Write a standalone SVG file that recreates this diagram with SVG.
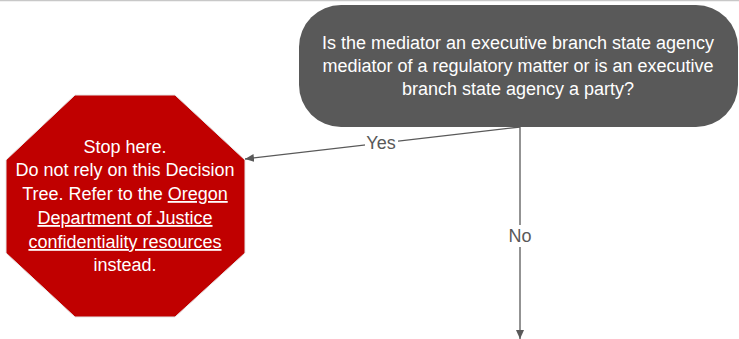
<svg xmlns="http://www.w3.org/2000/svg" width="739" height="339" viewBox="0 0 739 339">
  <style>
    .t { font-family: "Liberation Sans", Arial, sans-serif; font-size: 18px; fill: #ffffff; text-anchor: middle; }
    .lbl { font-family: "Liberation Sans", Arial, sans-serif; font-size: 18px; fill: #595959; text-anchor: middle; }
    .edge { stroke: #595959; stroke-width: 1.3; fill: none; }
    .u { text-decoration: underline; }
  </style>
  <defs>
    <marker id="arrow" markerWidth="10" markerHeight="10" refX="9" refY="5" orient="auto" markerUnits="userSpaceOnUse">
      <path d="M0,1 L9,5 L0,9 Z" fill="#595959"/>
    </marker>
  </defs>

  <rect x="0" y="0" width="739" height="339" fill="#ffffff"/>
  <line x1="0" y1="0.5" x2="739" y2="0.5" stroke="#c8c8c8" stroke-width="1.5"/>

  <g id="connectors">
    <line class="edge" x1="520" y1="127" x2="245" y2="159" marker-end="url(#arrow)"/>
    <line class="edge" x1="520" y1="127" x2="520" y2="339" marker-end="url(#arrow)"/>
    <rect x="365" y="133" width="33" height="20" fill="#ffffff"/>
    <text class="lbl" x="381" y="149">Yes</text>
    <rect x="507" y="225" width="26" height="22" fill="#ffffff"/>
    <text class="lbl" x="520" y="242">No</text>
  </g>

  <g id="question">
    <rect x="299" y="5" width="439" height="122" rx="42" ry="42" fill="#595959"/>
    <text class="t" x="518" y="49">Is the mediator an executive branch state agency</text>
    <text class="t" x="518" y="72">mediator of a regulatory matter or is an executive</text>
    <text class="t" x="518" y="95">branch state agency a party?</text>
  </g>

  <g id="stop">
    <polygon points="75,95 175,95 245,160 245,253 175,317 75,317 6,253 6,160" fill="#c00000" stroke="#e6e6e6" stroke-width="1"/>
    <text class="t" x="125" y="153">Stop here.</text>
    <text class="t" x="125" y="176">Do not rely on this Decision</text>
    <text class="t" x="125" y="200">Tree. Refer to the <tspan class="u">Oregon</tspan></text>
    <text class="t u" x="125" y="224">Department of Justice</text>
    <text class="t u" x="125" y="248">confidentiality resources</text>
    <text class="t" x="125" y="271">instead.</text>
  </g>
</svg>
